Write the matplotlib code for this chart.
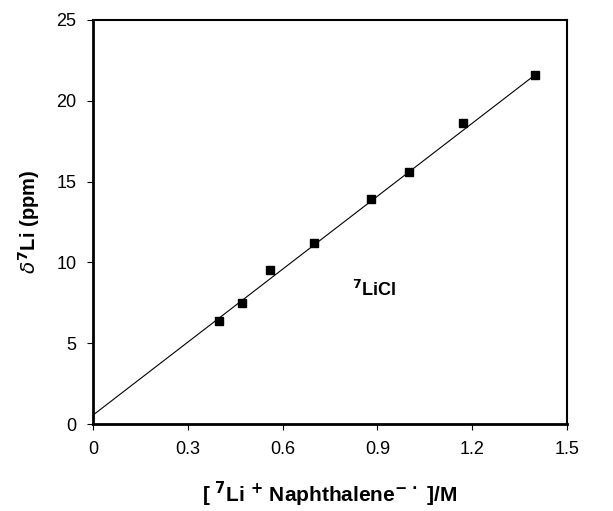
import numpy as np
import matplotlib
matplotlib.use("Agg")
import matplotlib.pyplot as plt

plt.rcParams['font.family'] = ['Liberation Sans', 'DejaVu Sans']

# measured points
conc = [0.40, 0.47, 0.56, 0.70, 0.88, 1.00, 1.17, 1.40]
shift = [6.4, 7.5, 9.5, 11.2, 13.9, 15.6, 18.6, 21.6]

# linear fit
fit_x = [0.0, 1.40]
intercept = 0.55
slope = 15.05

x_ticks = [0, 0.3, 0.6, 0.9, 1.2, 1.5]
x_tick_labels = ['0', '0.3', '0.6', '0.9', '1.2', '1.5']
y_ticks = [0, 5, 10, 15, 20, 25]

fig = plt.figure(figsize=(6.13, 5.11), dpi=100)
ax = fig.add_axes([93 / 613, 87 / 511, 474 / 613, 404 / 511])

fx = np.array(fit_x)
ax.plot(fx, intercept + slope * fx, color='black', lw=0.8)
ax.plot(conc, shift, 's', color='black', ms=6)

ax.set_xlim(0, 1.5)
ax.set_ylim(0, 25)
ax.set_xticks(x_ticks)
ax.set_xticklabels(x_tick_labels)
ax.set_yticks(y_ticks)
ax.tick_params(axis='both', direction='out', length=4, width=0.8,
               labelsize=13, pad=8, colors='black')
for side in ['left', 'bottom']:
    ax.spines[side].set_linewidth(2)
for side in ['top', 'right']:
    ax.spines[side].set_linewidth(1.5)

ax.text(0.82, 7.9, r'$^{\mathbf{7}}$LiCl', fontsize=13, fontweight='bold')

ax.set_ylabel(r'$\delta^{\mathbf{7}}$Li (ppm)', fontsize=14.5, fontweight='bold', labelpad=10)
ax.set_xlabel(r'[ $^{\mathbf{7}}$Li $^{\mathbf{+}}$ Naphthalene$^{\mathbf{-\,\bullet}}$ ]/M',
              fontsize=15, fontweight='bold', labelpad=16)

fig.savefig('out.png', dpi=100)
